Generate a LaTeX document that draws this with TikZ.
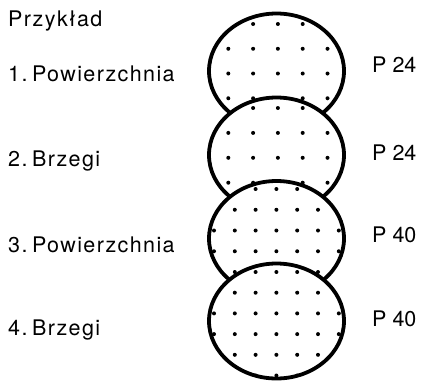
\documentclass[tikz,border=0pt]{standalone}
\usepackage{fontspec}
\setmainfont{TeX Gyre Heros}
\newfontfamily\lblfont[LetterSpace=6.5]{TeX Gyre Heros}
\newcommand\DrawDisc[5]{%
  \fill[white] (276.5,#1) ellipse[x radius=67.5pt, y radius=57.5pt];
  \begin{scope}
    \clip (276.5,#1) ellipse[x radius=67.5pt, y radius=57.5pt];
    \foreach \i in {-2,...,8}{%
      \foreach \j in {-3,...,8}{%
        \fill[black] ({#2+\i*#3},{#4+\j*#5}) circle[radius=2pt];
      }%
    }%
  \end{scope}
  \draw[discline] (276.5,#1) ellipse[x radius=67.5pt, y radius=57.5pt];
}
\begin{document}
\begin{tikzpicture}[x=1pt,y=-1pt,
  discline/.style={line width=3.8pt, black},
  lbl/.style={anchor=base west, inner sep=0pt, font=\lblfont\fontsize{21.5}{24}\selectfont},
  plbl/.style={anchor=base west, inner sep=0pt, font=\fontsize{21.5}{24}\selectfont}]
\useasboundingbox (0,0) rectangle (422,381);
\DrawDisc{71}{228.3}{24.8}{24}{24.75}
\DrawDisc{155}{228.3}{24.8}{108}{24.9}
\DrawDisc{238.5}{214}{20.8}{189}{20.75}
\DrawDisc{321}{214}{20.8}{272}{20.7}
\node[lbl] (t0) at (8,26.7) {Przykład};
\node[lbl] (t1) at (8,81) {1.\hspace{4.5pt}Powierzchnia};
\node[lbl] (t2) at (8,166) {2.\hspace{4.5pt}Brzegi};
\node[lbl] (t3) at (8,252) {3.\hspace{4.5pt}Powierzchnia};
\node[lbl] (t4) at (8,335) {4.\hspace{4.5pt}Brzegi};
\node[plbl] (p1) at (372,72.7) {P 24};
\node[plbl] (p2) at (372,160) {P 24};
\node[plbl] (p3) at (372,242.7) {P 40};
\node[plbl] (p4) at (372,326) {P 40};
\end{tikzpicture}
\end{document}
